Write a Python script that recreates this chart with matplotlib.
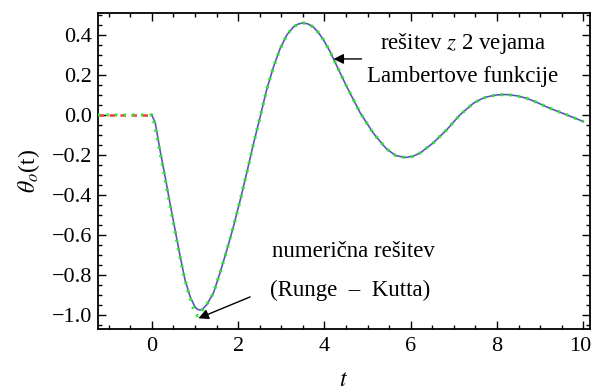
import matplotlib
matplotlib.use("Agg")
import matplotlib.pyplot as plt
from matplotlib.ticker import MultipleLocator
from matplotlib.transforms import ScaledTranslation

# Lambert-function solution (blue)
t_lambert = [0, 0.08, 0.19, 0.31, 0.42, 0.54, 0.66, 0.77, 0.89, 1.0, 1.06, 1.12, 1.19, 1.27,
             1.43, 1.58, 1.74, 1.89, 2.05, 2.2, 2.35, 2.51, 2.66, 2.82, 2.97, 3.13,
             3.28, 3.4, 3.51, 3.62, 3.74, 3.86, 3.98, 4.13, 4.21, 4.52, 4.83, 5.13, 5.3, 5.44,
             5.65, 5.87, 6.05, 6.22, 6.52, 6.83, 7.14, 7.45, 7.62, 7.76, 7.99, 8.22, 8.45,
             8.69, 8.92, 9.15, 9.38, 9.62, 10.0]
theta_lambert = [0, -0.04, -0.175, -0.31, -0.44, -0.575, -0.71, -0.825, -0.91, -0.96, -0.972,
                 -0.976, -0.968, -0.95, -0.89, -0.79, -0.675, -0.56, -0.425, -0.29, -0.15,
                 -0.01, 0.125, 0.24, 0.33, 0.40, 0.44, 0.455, 0.46, 0.455, 0.44, 0.412,
                 0.375, 0.317, 0.28, 0.14, 0.01, -0.09, -0.135, -0.17, -0.203, -0.213, -0.207,
                 -0.19, -0.14, -0.075, 0.0, 0.058, 0.078, 0.09, 0.1, 0.102, 0.096, 0.083,
                 0.063, 0.04, 0.02, 0.0, -0.033]

# Numerical (Runge-Kutta) solution (green dotted)
t_rk = [-1.25, 0, 0.04, 0.15, 0.27, 0.385, 0.5, 0.62, 0.73, 0.85, 0.96, 1.06, 1.2,
        1.27, 1.43, 1.58, 1.74, 1.89, 2.05, 2.2, 2.35, 2.51, 2.66, 2.82, 2.97, 3.13,
        3.28, 3.4, 3.51, 3.62, 3.74, 3.86, 3.98, 4.13, 4.21, 4.52, 4.83, 5.13, 5.3, 5.44, 5.65,
        5.87, 6.05, 6.22, 6.52, 6.83, 7.14, 7.45, 7.62, 7.76, 7.99, 8.22, 8.45, 8.69, 8.92,
        9.15, 9.38, 9.62, 10.0]
theta_rk = [0, 0, -0.025, -0.14, -0.275, -0.41, -0.54, -0.675, -0.79, -0.89, -0.965,
            -1.005, -0.97, -0.95, -0.89, -0.79, -0.675, -0.56, -0.425, -0.29, -0.15,
            -0.01, 0.125, 0.24, 0.33, 0.40, 0.44, 0.455, 0.46, 0.455, 0.44, 0.412, 0.375,
            0.317, 0.28, 0.14, 0.01, -0.09, -0.135, -0.17, -0.203, -0.213, -0.207, -0.19, -0.14,
            -0.075, 0.0, 0.058, 0.078, 0.09, 0.1, 0.102, 0.096, 0.083, 0.063, 0.04, 0.02,
            0.0, -0.033]

# History function (red dashed)
t_hist = [-1.25, 0]
theta_hist = [0, 0]

x_ticks = [0, 2, 4, 6, 8, 10]
y_ticks = [-1.0, -0.8, -0.6, -0.4, -0.2, 0.0, 0.2, 0.4]

plt.rcParams['font.family'] = ['Liberation Serif', 'DejaVu Serif']
plt.rcParams['mathtext.fontset'] = 'stix'

fig = plt.figure(figsize=(5.93, 3.92), dpi=100)
ax = fig.add_axes([0.165, 0.161, 0.83, 0.806])

ax.plot(t_lambert, theta_lambert, color='#5a5ab8', lw=1.2, zorder=2)
ax.plot(t_hist, theta_hist, color='#f03c3c', lw=1.8, linestyle=(0, (2.2, 2.2)), zorder=3)
ax.plot(t_rk, theta_rk, color='#2ee82e', lw=2.3, linestyle=(0, (0.7, 2.0)),
        dash_capstyle='butt', zorder=4)

ax.set_xlim(-1.25, 10.155)
ax.set_ylim(-1.07, 0.51)
ax.set_xticks(x_ticks)
ax.set_xticklabels([str(v) for v in x_ticks])
ax.set_yticks(y_ticks)
ax.set_yticklabels([('\u2212' if v < 0 else '') + f"{abs(v):.1f}" for v in y_ticks])
ax.xaxis.set_minor_locator(MultipleLocator(0.5))
ax.yaxis.set_minor_locator(MultipleLocator(0.05))
ax.tick_params(which='both', direction='in', top=True, right=True, width=1.0,
               labelsize=16, colors='black')
ax.tick_params(which='major', length=5.5)
ax.tick_params(which='minor', length=3)
ax.tick_params(axis='x', pad=6)
ax.tick_params(axis='y', pad=4)
for s in ax.spines.values():
    s.set_linewidth(1.3)

# keep the last x label inside the image
last = ax.get_xticklabels()[-1]
last.set_transform(last.get_transform() + ScaledTranslation(-3 / 100, 0, fig.dpi_scale_trans))

ax.set_xlabel(r'$t$', fontsize=17, labelpad=10)
ax.set_ylabel(r'$\theta_o$(t)', fontsize=17, labelpad=7)

ax.text(7.21, 0.357, r'rešitev $z$ 2 vejama', fontsize=16.5, ha='center', va='center')
ax.text(7.21, 0.19, 'Lambertove funkcije', fontsize=16.5, ha='center', va='center')
ax.annotate('', xy=(4.21, 0.28), xytext=(4.86, 0.28),
            arrowprops=dict(arrowstyle='-|>', color='black', lw=1.0, mutation_scale=15,
                            shrinkA=0, shrinkB=0))

ax.text(4.67, -0.685, 'numerična rešitev', fontsize=16.5, ha='center', va='center')
ax.text(4.6, -0.88, '(Runge  \u2013  Kutta)', fontsize=16.5, ha='center', va='center')
ax.annotate('', xy=(1.08, -1.017), xytext=(2.28, -0.91),
            arrowprops=dict(arrowstyle='-|>', color='black', lw=1.0, mutation_scale=15,
                            shrinkA=0, shrinkB=0))

fig.savefig('out.png', dpi=100)
